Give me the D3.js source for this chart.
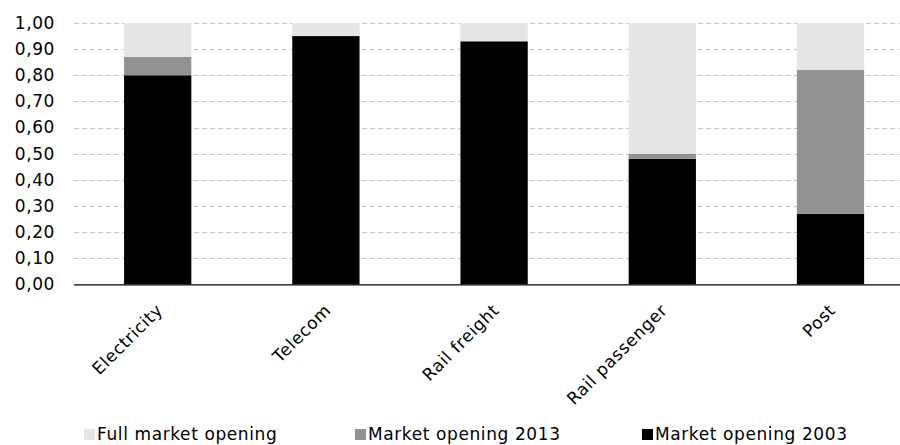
<!DOCTYPE html>
<html>
<head>
<meta charset="utf-8">
<script src="https://cdn.jsdelivr.net/npm/d3@7"></script>
<style>
	body { margin: 0; background: #fff; }
	svg { display: block; font-family: "DejaVu Sans", Verdana, sans-serif; }
	text { letter-spacing: 0.6px; }
</style>
</head>
<body>
<script>
var sectors = ["Electricity", "Telecom", "Rail freight", "Rail passenger", "Post"];
var opening2003 = [0.80, 0.95, 0.93, 0.48, 0.27];
var opening2013 = [0.07, 0.00, 0.00, 0.02, 0.55];
var fullOpening = [0.13, 0.05, 0.07, 0.50, 0.18];
var yTicks = [0, 0.1, 0.2, 0.3, 0.4, 0.5, 0.6, 0.7, 0.8, 0.9, 1.0];

var seriesKeys = ["m2003", "m2013", "full"];
var seriesNames = { m2003: "Market opening 2003", m2013: "Market opening 2013", full: "Full market opening" };
var colors = { m2003: "#000000", m2013: "#929292", full: "#e5e5e5" };

var rows = sectors.map(function(s, i) {
	return { sector: s, m2003: opening2003[i], m2013: opening2013[i], full: fullOpening[i] };
});

var width = 900, height = 445;
var fontSize = 17;
var svg = d3.select("body").append("svg")
	.attr("width", width)
	.attr("height", height);

var x = d3.scaleBand()
	.domain(sectors)
	.range([73.6, 914.6])
	.paddingInner(0.6)
	.paddingOuter(0.3);

var y = d3.scaleLinear()
	.domain([0, 1])
	.range([284.3, 23]);

var fmt = function(d) { return d3.format(".2f")(d).replace(".", ","); };

// dashed grid
svg.append("g").selectAll("line")
	.data(yTicks.slice(1))
	.enter().append("line")
	.attr("x1", 74)
	.attr("x2", width)
	.attr("y1", function(d) { return Math.round(y(d)) + 0.5; })
	.attr("y2", function(d) { return Math.round(y(d)) + 0.5; })
	.attr("stroke", "#c6c6c6")
	.attr("stroke-dasharray", "5,3");

// y labels
var yAxis = svg.append("g")
	.attr("transform", "translate(74,0)")
	.call(d3.axisLeft(y).tickValues(yTicks).tickFormat(fmt).tickSize(0).tickPadding(19));
yAxis.select(".domain").remove();
yAxis.selectAll("text")
	.attr("font-size", fontSize)
	.attr("fill", "#000")
	.attr("font-family", "DejaVu Sans, Verdana, sans-serif");

// stacked bars
var stacked = d3.stack().keys(seriesKeys)(rows);

var layer = svg.append("g").selectAll("g")
	.data(stacked)
	.enter().append("g")
	.attr("fill", function(d) { return colors[d.key]; });

layer.selectAll("rect")
	.data(function(d) { return d; })
	.enter().append("rect")
	.attr("x", function(d) { return x(d.data.sector); })
	.attr("width", x.bandwidth())
	.attr("y", function(d) { return y(d[1]); })
	.attr("height", function(d) { return y(d[0]) - y(d[1]); });

// x axis
var xAxis = svg.append("g")
	.attr("transform", "translate(0," + y(0) + ")")
	.call(d3.axisBottom(x).tickSize(0).tickSizeOuter(0));
xAxis.select(".domain")
	.attr("d", "M74,0.5H" + width)
	.attr("stroke", "#000")
	.attr("stroke-width", 1.3);
xAxis.selectAll("text")
	.attr("font-size", fontSize)
	.attr("fill", "#000")
	.attr("font-family", "DejaVu Sans, Verdana, sans-serif")
	.attr("text-anchor", "end")
	.attr("dy", 0)
	.attr("y", 0)
	.attr("transform", "translate(6,27) rotate(-45)");

// legend
var legendItems = ["full", "m2013", "m2003"];
var legendX = [84, 355, 642];
var legend = svg.append("g").selectAll("g")
	.data(legendItems)
	.enter().append("g")
	.attr("transform", function(d, i) { return "translate(" + legendX[i] + ",0)"; });

legend.append("rect")
	.attr("x", 0)
	.attr("y", 429)
	.attr("width", 11)
	.attr("height", 11)
	.attr("fill", function(d) { return colors[d]; });

legend.append("text")
	.attr("x", 13)
	.attr("y", 440)
	.attr("font-size", fontSize)
	.text(function(d) { return seriesNames[d]; });
</script>
</body>
</html>
